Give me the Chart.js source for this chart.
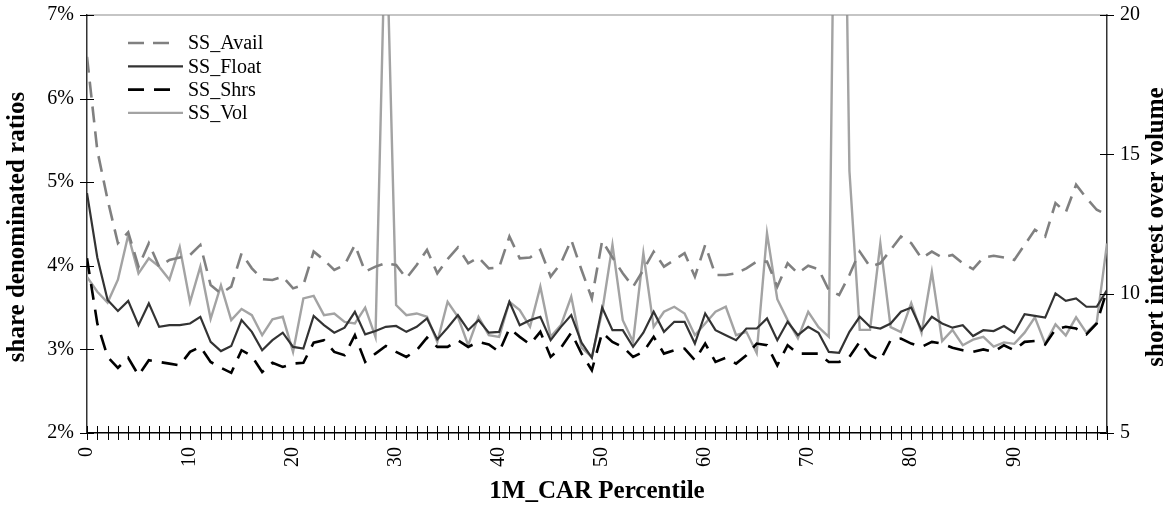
<!DOCTYPE html>
<html>
<head>
<meta charset="utf-8">
<script src="https://cdn.jsdelivr.net/npm/chart.js@4/dist/chart.umd.min.js"></script>
<style>
  html, body { margin: 0; padding: 0; background: #fff; }
  #wrap { width: 1174px; height: 508px; }
</style>
</head>
<body>
<div id="wrap"><canvas id="chart" width="1174" height="508"></canvas></div>
<script>
// percentile buckets 0..99
const percentiles = Array.from({ length: 100 }, (_, i) => String(i));

// left axis, in percent
const ssAvail = [
  6.50, 5.38, 4.79, 4.27, 4.40, 3.99, 4.27, 3.99, 4.07, 4.10,
  4.13, 4.25, 3.77, 3.67, 3.75, 4.15, 3.97, 3.84, 3.83, 3.87,
  3.73, 3.77, 4.17, 4.07, 3.95, 4.01, 4.25, 3.93, 3.99, 4.03,
  4.01, 3.85, 4.01, 4.19, 3.91, 4.08, 4.22, 4.03, 4.10, 3.97,
  3.98, 4.35, 4.09, 4.10, 4.19, 3.87, 4.03, 4.31, 3.95, 3.61,
  4.30, 4.10, 3.91, 3.75, 3.95, 4.17, 3.99, 4.07, 4.15, 3.87,
  4.25, 3.89, 3.89, 3.91, 3.97, 4.05, 4.05, 3.75, 4.03, 3.91,
  4.00, 3.96, 3.71, 3.65, 3.89, 4.17, 3.99, 4.03, 4.19, 4.35,
  4.27, 4.09, 4.17, 4.10, 4.13, 4.03, 3.96, 4.10, 4.12, 4.10,
  4.07, 4.25, 4.43, 4.35, 4.75, 4.64, 4.97, 4.81, 4.67, 4.61
];
const ssFloat = [
  4.87, 4.10, 3.59, 3.46, 3.58, 3.29, 3.55, 3.27, 3.29, 3.29,
  3.31, 3.39, 3.09, 2.98, 3.04, 3.35, 3.21, 2.99, 3.11, 3.20,
  3.03, 3.01, 3.40, 3.29, 3.20, 3.26, 3.45, 3.18, 3.22, 3.27,
  3.28, 3.21, 3.27, 3.37, 3.12, 3.26, 3.41, 3.23, 3.35, 3.20,
  3.21, 3.57, 3.29, 3.35, 3.39, 3.11, 3.27, 3.41, 3.08, 2.90,
  3.50, 3.23, 3.23, 3.03, 3.20, 3.45, 3.21, 3.33, 3.33, 3.07,
  3.43, 3.23, 3.17, 3.11, 3.25, 3.25, 3.37, 3.11, 3.33, 3.17,
  3.27, 3.20, 2.97, 2.96, 3.21, 3.39, 3.27, 3.25, 3.31, 3.45,
  3.50, 3.23, 3.39, 3.31, 3.26, 3.29, 3.16, 3.23, 3.22, 3.28,
  3.20, 3.42, 3.40, 3.38, 3.67, 3.58, 3.61, 3.51, 3.51, 3.71
];
const ssShrs = [
  4.09, 3.31, 2.91, 2.78, 2.90, 2.69, 2.87, 2.85, 2.83, 2.81,
  2.97, 3.03, 2.85, 2.78, 2.72, 2.99, 2.92, 2.73, 2.84, 2.79,
  2.83, 2.84, 3.08, 3.11, 2.97, 2.93, 3.17, 2.85, 2.95, 3.04,
  2.97, 2.91, 2.99, 3.14, 3.03, 3.03, 3.11, 3.03, 3.09, 3.06,
  2.97, 3.25, 3.15, 3.06, 3.21, 2.91, 3.02, 3.20, 2.95, 2.75,
  3.20, 3.09, 3.03, 2.91, 2.97, 3.15, 2.95, 2.99, 3.01, 2.87,
  3.07, 2.85, 2.90, 2.83, 2.93, 3.07, 3.05, 2.81, 3.05, 2.95,
  2.95, 2.95, 2.85, 2.85, 2.91, 3.09, 2.93, 2.87, 3.11, 3.13,
  3.07, 3.03, 3.09, 3.07, 3.02, 2.99, 2.97, 3.00, 2.97, 3.05,
  2.99, 3.09, 3.10, 3.06, 3.24, 3.27, 3.25, 3.18, 3.31, 3.71
];
// right axis, short interest over volume
const ssVol = [
  10.60, 10.07, 9.68, 10.50, 12.10, 10.73, 11.27, 10.97, 10.50, 11.67,
  9.70, 10.97, 9.10, 10.30, 9.05, 9.45, 9.23, 8.51, 9.08, 9.17,
  7.91, 9.83, 9.92, 9.23, 9.29, 8.99, 8.93, 9.50, 8.45, 24.0,
  9.59, 9.23, 9.29, 9.17, 8.27, 9.71, 9.17, 8.15, 9.17, 8.51,
  8.45, 9.71, 9.41, 8.81, 10.25, 8.45, 8.87, 9.89, 8.06, 7.73,
  9.35, 11.75, 9.05, 8.27, 11.45, 8.81, 9.35, 9.53, 9.29, 8.51,
  8.93, 9.35, 9.53, 8.51, 8.63, 7.87, 12.17, 9.80, 9.05, 8.40,
  9.35, 8.80, 8.45, 40.0, 14.40, 8.70, 8.70, 11.80, 8.80, 8.62,
  9.66, 8.59, 10.78, 8.30, 8.70, 8.15, 8.35, 8.45, 8.10, 8.25,
  8.20, 8.60, 9.15, 8.20, 8.90, 8.50, 9.15, 8.60, 8.95, 11.80
];

const leftTitle = 'share denominated ratios';
const rightTitle = 'short interest over volume';

const serif = '"Liberation Serif", "Times New Roman", serif';

// legend drawn inside the plot, top-left
const innerLegend = {
  id: 'innerLegend',
  afterDatasetsDraw(chart) {
    const { ctx, chartArea } = chart;
    const x0 = chartArea.left + 41;
    const x1 = x0 + 55;
    chart.data.datasets.forEach((ds, i) => {
      const y = chartArea.top + 28 + i * 23.3;
      ctx.save();
      ctx.strokeStyle = ds.borderColor;
      ctx.lineWidth = ds.borderWidth;
      ctx.setLineDash(ds.borderDash || []);
      ctx.beginPath();
      ctx.moveTo(x0, y);
      ctx.lineTo(ds.borderDash ? x1 - 9 : x1, y);
      ctx.stroke();
      ctx.setLineDash([]);
      ctx.fillStyle = '#000';
      ctx.font = '20px ' + serif;
      ctx.textBaseline = 'middle';
      ctx.fillText(ds.label, x1 + 5, y + 1);
      ctx.restore();
    });
  }
};

// tick marks crossing the axis lines, grey top frame, and both y titles
// (both titles read bottom-to-top, as in the original)
const axisDecor = {
  id: 'axisDecor',
  afterDraw(chart) {
    const { ctx, chartArea: a, scales } = chart;
    ctx.save();
    ctx.strokeStyle = '#8c8c8c';
    ctx.lineWidth = 1.2;
    ctx.beginPath();
    ctx.moveTo(a.left, a.top);
    ctx.lineTo(a.right, a.top);
    ctx.stroke();

    ctx.strokeStyle = '#000';
    ctx.lineWidth = 1;
    ctx.beginPath();
    scales.x.ticks.forEach((t, i) => {
      const px = Math.round(scales.x.getPixelForTick(i)) + 0.5;
      ctx.moveTo(px, a.bottom - 7);
      ctx.lineTo(px, a.bottom + 7);
    });
    scales.y.ticks.forEach((t, i) => {
      const py = Math.round(scales.y.getPixelForTick(i)) + 0.5;
      ctx.moveTo(a.left - 7, py);
      ctx.lineTo(a.left + 7, py);
    });
    scales.y1.ticks.forEach((t, i) => {
      const py = Math.round(scales.y1.getPixelForTick(i)) + 0.5;
      ctx.moveTo(a.right - 7, py);
      ctx.lineTo(a.right + 7, py);
    });
    ctx.stroke();

    const midY = (a.top + a.bottom) / 2 + 3;
    ctx.fillStyle = '#000';
    ctx.font = 'bold 25px ' + serif;
    ctx.textAlign = 'center';
    ctx.textBaseline = 'middle';
    [[18, leftTitle], [chart.width - 17, rightTitle]].forEach(([tx, text]) => {
      ctx.save();
      ctx.translate(tx, midY);
      ctx.rotate(-Math.PI / 2);
      ctx.fillText(text, 0, 0);
      ctx.restore();
    });
    ctx.restore();
  }
};

const tickFont = { family: serif, size: 20 };
// grid kept only so the tick length pushes labels out; the marks themselves come from axisDecor
const hiddenTicks = (len) => ({ display: true, drawOnChartArea: false, drawTicks: true, tickLength: len, tickColor: 'rgba(0,0,0,0)' });

new Chart(document.getElementById('chart'), {
  type: 'line',
  data: {
    labels: percentiles,
    datasets: [
      { label: 'SS_Avail', data: ssAvail, yAxisID: 'y', borderColor: '#808080', borderWidth: 2.6, borderDash: [16, 9] },
      { label: 'SS_Float', data: ssFloat, yAxisID: 'y', borderColor: '#333333', borderWidth: 2.2 },
      { label: 'SS_Shrs', data: ssShrs, yAxisID: 'y', borderColor: '#000000', borderWidth: 2.6, borderDash: [16, 10] },
      { label: 'SS_Vol', data: ssVol, yAxisID: 'y1', borderColor: '#a3a3a3', borderWidth: 2.4 }
    ]
  },
  options: {
    responsive: false,
    animation: false,
    layout: { padding: { top: 15, left: 0, right: 0, bottom: 0 } },
    elements: { point: { radius: 0 }, line: { tension: 0 } },
    datasets: { line: { clip: 0 } },
    plugins: { legend: { display: false }, tooltip: { enabled: false } },
    scales: {
      x: {
        type: 'category',
        offset: false,
        grid: hiddenTicks(10),
        border: { display: true, color: '#000', width: 1.5 },
        ticks: {
          autoSkip: false,
          minRotation: 90,
          maxRotation: 90,
          padding: 4,
          color: '#000',
          font: tickFont,
          callback: function (v, i) { return i % 10 === 0 ? this.getLabelForValue(v) : ''; }
        },
        title: { display: true, text: '1M_CAR Percentile', color: '#000', font: { family: serif, size: 25, weight: 'bold' }, padding: { top: 0, bottom: 1 } },
        afterFit: s => { s.height = 75; }
      },
      y: {
        position: 'left',
        min: 2, max: 7,
        grid: hiddenTicks(10),
        border: { display: true, color: '#333', width: 1.5 },
        ticks: { stepSize: 1, padding: 3, color: '#000', font: tickFont, callback: v => v + '%' },
        afterFit: s => { s.width = 87; }
      },
      y1: {
        position: 'right',
        min: 5, max: 20,
        grid: hiddenTicks(10),
        border: { display: true, color: '#333', width: 1.5 },
        ticks: { stepSize: 5, padding: 3, color: '#000', font: tickFont },
        afterFit: s => { s.width = 67; }
      }
    }
  },
  plugins: [innerLegend, axisDecor]
});
</script>
</body>
</html>
